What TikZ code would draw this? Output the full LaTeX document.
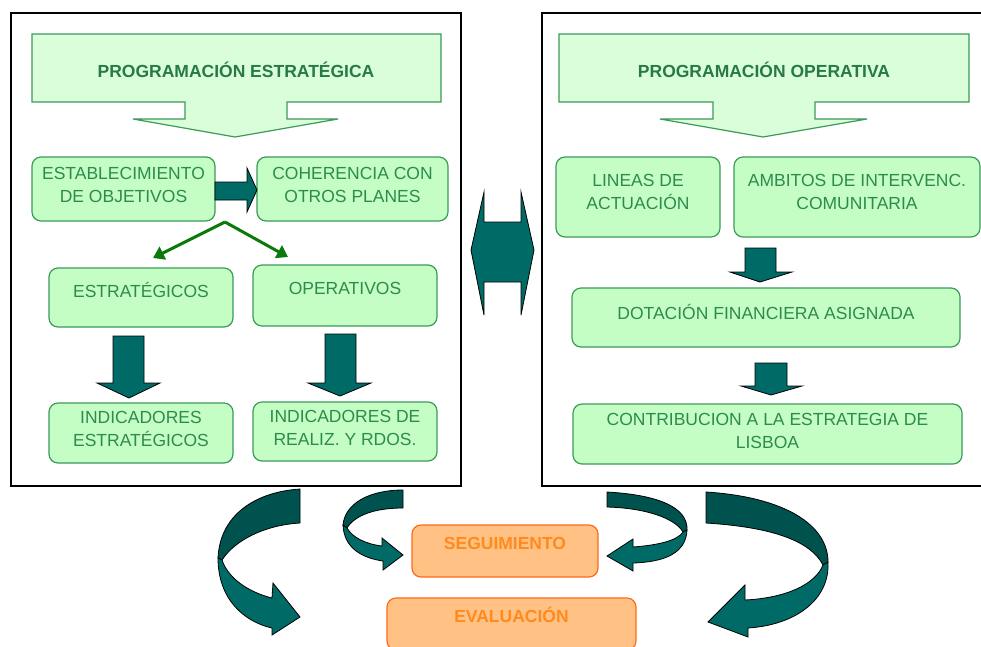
\documentclass[tikz,border=0pt]{standalone}
\usepackage{fontspec}
\setmainfont{Liberation Sans}
\usetikzlibrary{arrows.meta}
\definecolor{gfill}{HTML}{C4FEC4}
\definecolor{tfill}{HTML}{DAFEDA}
\definecolor{gline}{HTML}{3C9A5A}
\definecolor{gtext}{HTML}{2E8B4E}
\definecolor{ttext}{HTML}{267A42}
\definecolor{branch}{HTML}{0A7A0A}
\definecolor{tealA}{HTML}{006B66}
\definecolor{tealB}{HTML}{00524F}
\definecolor{ofill}{HTML}{FFC184}
\definecolor{oline}{HTML}{FF6A1A}
\definecolor{otext}{HTML}{FF8A1E}
\begin{document}
\begin{tikzpicture}[x=1pt,y=-1pt,
  gbox/.style={draw=gline, fill=gfill, line width=1.2pt, rounded corners=9pt, inner sep=0pt},
  obox/.style={draw=oline, fill=ofill, line width=1.2pt, rounded corners=9pt, inner sep=0pt},
  callout/.style={draw=gline, fill=tfill, line width=1.2pt, line join=miter},
  lbl/.style={text=gtext, font=\fontsize{17.5}{23}\selectfont, align=center, inner sep=0pt},
  ttl/.style={text=ttext, font=\bfseries\fontsize{17.5}{21}\selectfont, inner sep=0pt},
  olbl/.style={text=otext, font=\bfseries\fontsize{17.5}{21}\selectfont, inner sep=0pt},
  blockarrow/.style={fill=tealA, draw=black, line width=0.8pt, line join=miter},
  ribbonA/.style={fill=tealA, draw=black, line width=0.8pt, line join=miter},
  ribbonB/.style={fill=tealB, draw=black, line width=0.8pt, line join=miter},
  panel/.style={draw=black, line width=1.5pt, fill=white},
  branchline/.style={draw=branch, line width=3pt, -{Triangle[length=11pt,width=14pt]}}
]
\useasboundingbox (0,0) rectangle (981,646);
\clip (0,0) rectangle (981,646);
\fill[white] (0,0) rectangle (981,646);

% panels
\draw[panel] (11,13) rectangle (461,486);
\draw[panel] (542,13) rectangle (995,486);

% ---------- left panel ----------
\draw[callout] (32,34) -- (441,34) -- (441,102) -- (287,102) -- (287,119) -- (338,119)
  -- (235,137) -- (133,119) -- (185,119) -- (185,102) -- (32,102) -- cycle;
\node[ttl] (ptitle) at (236,70) {PROGRAMACIÓN ESTRATÉGICA};

\node[gbox, minimum width=183pt, minimum height=64pt] (est) at (123.5,189) {};
\node[lbl] (estT) at (123.5,185) {ESTABLECIMIENTO\\DE OBJETIVOS};
\node[gbox, minimum width=191pt, minimum height=64pt] (coh) at (352.5,189) {};
\node[lbl] (cohT) at (352.5,185) {COHERENCIA CON\\OTROS PLANES};

\draw[blockarrow] (215,182) -- (247,182) -- (247,168) -- (257,190) -- (247,212) -- (247,200) -- (215,200) -- cycle;

\coordinate (apex) at (225,222);
\coordinate (tipL) at (153,258);
\coordinate (tipR) at (288,257);
\draw[branchline] (apex) -- (tipL);
\draw[branchline] (apex) -- (tipR);

\node[gbox, minimum width=184pt, minimum height=59pt] (estr) at (141,297.5) {};
\node[lbl] (estrT) at (141,290) {ESTRATÉGICOS};
\node[gbox, minimum width=184pt, minimum height=61pt] (oper) at (345,295.5) {};
\node[lbl] (operT) at (345,288) {OPERATIVOS};

\draw[blockarrow] (113,336) -- (144,336) -- (144,383) -- (160,383) -- (129,398) -- (97,383) -- (113,383) -- cycle;
\draw[blockarrow] (325,334) -- (356,334) -- (356,383) -- (371,383) -- (340,396) -- (308,383) -- (325,383) -- cycle;

\node[gbox, minimum width=184pt, minimum height=60pt] (ind1) at (141,433) {};
\node[lbl] (ind1T) at (141,429) {INDICADORES\\ESTRATÉGICOS};
\node[gbox, minimum width=184pt, minimum height=59pt] (ind2) at (345,431.5) {};
\node[lbl] (ind2T) at (345,427.5) {INDICADORES DE\\REALIZ. Y RDOS.};

% ---------- right panel ----------
\draw[callout] (559,34) -- (969,34) -- (969,102) -- (815,102) -- (815,119) -- (867,119)
  -- (763,137) -- (660,119) -- (713,119) -- (713,102) -- (559,102) -- cycle;
\node[ttl] (otitle) at (764,70) {PROGRAMACIÓN OPERATIVA};

\node[gbox, minimum width=164pt, minimum height=80pt] (lin) at (638,197) {};
\node[lbl] (linT) at (638,192) {LINEAS DE\\ACTUACIÓN};
\node[gbox, minimum width=246pt, minimum height=80pt] (amb) at (857,197) {};
\node[lbl] (ambT) at (857,192) {AMBITOS DE INTERVENC.\\COMUNITARIA};

\draw[blockarrow] (745,248) -- (776,248) -- (776,272) -- (792,272) -- (760,282) -- (730,272) -- (745,272) -- cycle;

\node[gbox, minimum width=388pt, minimum height=59pt] (dot) at (766,317.5) {};
\node[lbl] (dotT) at (766,312) {DOTACIÓN FINANCIERA ASIGNADA};

\draw[blockarrow] (755,363) -- (787,363) -- (787,386) -- (802,386) -- (771,395) -- (741,386) -- (755,386) -- cycle;

\node[gbox, minimum width=389pt, minimum height=60pt] (con) at (767.5,434) {};
\node[lbl] (conT) at (767.5,431) {CONTRIBUCION A LA ESTRATEGIA DE\\LISBOA};

% ---------- central double arrow ----------
\draw[blockarrow] (484,192) -- (484,222) -- (521,222) -- (521,192) -- (534,250) -- (521,315)
  -- (521,282) -- (484,282) -- (484,315) -- (471,250) -- cycle;

% ---------- bottom ----------
\node[obox, minimum width=186pt, minimum height=52pt] (seg) at (505,551) {};
\node[olbl] (segT) at (505,543) {SEGUIMIENTO};
\node[obox, minimum width=249pt, minimum height=52pt] (eva) at (511.5,624) {};
\node[olbl] (evaT) at (511.5,615) {EVALUACIÓN};

% big left curved arrow
\draw[ribbonB] (300,489) .. controls (255,492) and (220,515) .. (218,558)
  -- (222,560) .. controls (235,540) and (265,525) .. (300,523) -- cycle;
\draw[ribbonA] (218,558) .. controls (218,600) and (245,622) .. (272,628)
  -- (272,635) -- (300,617) -- (273,583) -- (272,598)
  .. controls (248,592) and (228,578) .. (222,560) -- cycle;

% small left curved arrow
\draw[ribbonB] (403,490) .. controls (370,490) and (345,503) .. (343,525)
  -- (347,528) .. controls (355,515) and (375,508) .. (403,508) -- cycle;
\draw[ribbonA] (343,525) .. controls (344,548) and (362,558) .. (383,561)
  -- (383,570) -- (403,555) -- (382,538) -- (382,546)
  .. controls (365,544) and (352,537) .. (347,528) -- cycle;

% small right curved arrow
\draw[ribbonB] (607,492) .. controls (660,495) and (688,508) .. (687,530)
  -- (683,532) .. controls (675,518) and (645,508) .. (607,507) -- cycle;
\draw[ribbonA] (687,530) .. controls (686,553) and (665,562) .. (633,563)
  -- (633,571) -- (607,556) -- (633,539) -- (633,547)
  .. controls (660,545) and (678,540) .. (683,532) -- cycle;

% big right curved arrow
\draw[ribbonB] (706,492) .. controls (785,497) and (828,525) .. (828,562)
  -- (823,565) .. controls (810,540) and (770,527) .. (706,523) -- cycle;
\draw[ribbonA] (828,562) .. controls (830,600) and (795,625) .. (748,628)
  -- (748,637) -- (708,622) -- (745,585) -- (745,600)
  .. controls (785,598) and (815,585) .. (823,565) -- cycle;
\end{tikzpicture}
\end{document}
